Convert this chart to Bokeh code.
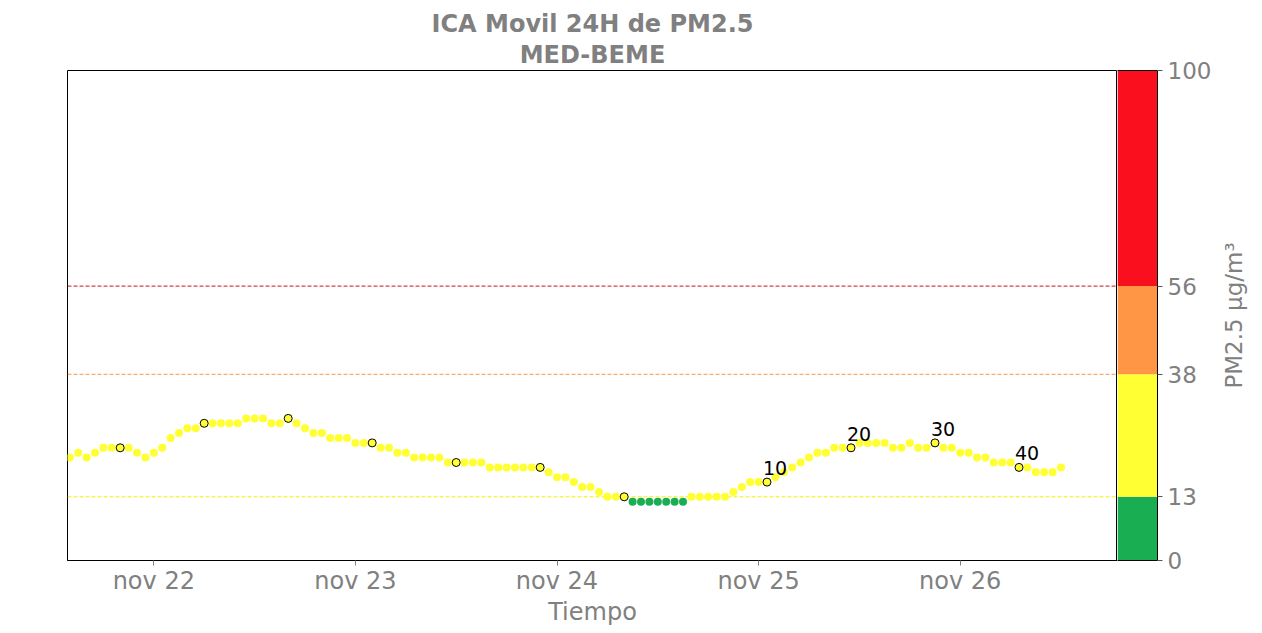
import pandas as pd
from bokeh.plotting import figure
from bokeh.layouts import row
from bokeh.models import Range1d, FixedTicker, LabelSet, ColumnDataSource, Title, LinearAxis
from bokeh.core.properties import value
from bokeh.embed import file_html
from bokeh.resources import INLINE

# ---------------- data ----------------
title_lines = ["ICA Movil 24H de PM2.5", "MED-BEME"]
x_label = "Tiempo"
cb_axis_label = "PM2.5 \u03bcg/m\u00b3"
start_time = "2022-11-21 14:00"          # first hourly value
pm25 = [21, 22, 21, 22, 23, 23, 23, 23, 22, 21, 22, 23, 25, 26, 27, 27,
        28, 28, 28, 28, 28, 29, 29, 29, 28, 28, 29, 28, 27, 26, 26, 25,
        25, 25, 24, 24, 24, 23, 23, 22, 22, 21, 21, 21, 21, 20, 20, 20,
        20, 20, 19, 19, 19, 19, 19, 19, 19, 18, 17, 17, 16, 15, 15, 14,
        13, 13, 13, 12, 12, 12, 12, 12, 12, 12, 13, 13, 13, 13, 13, 14,
        15, 16, 16, 16, 17, 18, 19, 20, 21, 22, 22, 23, 23, 23, 24, 24,
        24, 24, 23, 23, 24, 23, 23, 24, 23, 23, 22, 22, 21, 21, 20, 20,
        20, 19, 19, 18, 18, 18, 19]
marked_idx = [6, 16, 26, 36, 46, 56, 66, 83, 93, 103, 113]
marked_txt = ["", "", "", "", "", "", "", "10", "20", "30", "40"]
tick_days = ["2022-11-22", "2022-11-23", "2022-11-24", "2022-11-25", "2022-11-26"]
tick_labels = ["nov 22", "nov 23", "nov 24", "nov 25", "nov 26"]
cb_bounds = [0, 13, 38, 56, 100]
cb_colors = ["#1aae53", "#ffff33", "#ff9645", "#fa0f1f"]
limit_levels = [13, 38, 56]
limit_colors = ["#f7f000", "#ff9645", "#c8141e"]

# ---------------- derived ----------------
ref0 = pd.Timestamp("2022-11-21 00:00")
times = pd.date_range(start_time, periods=len(pm25), freq="h")
hours = [(t - ref0) / pd.Timedelta(hours=1) for t in times]
tick_hours = [int((pd.Timestamp(d) - ref0) / pd.Timedelta(hours=1)) for d in tick_days]
pt_colors = [cb_colors[0] if v < cb_bounds[1] else cb_colors[1] for v in pm25]

# layout (page pixels)
H = 633
FL, FT, FB = 67, 70, 560
MAIN_R, CB_R, CB_FIG_R = 1117, 1158, 1214
PX_PER_H = 8.4
x0 = hours[0] - (69.3 - FL) / PX_PER_H
xm = x0 + (MAIN_R - FL) / PX_PER_H

GRAY = "#808080"
FONT = "DejaVu Sans"

# ---------------- main plot ----------------
p = figure(width=MAIN_R, height=H, output_backend="svg", toolbar_location=None,
           x_range=Range1d(x0, xm), y_range=Range1d(0, 100),
           y_axis_location=None,
           min_border_left=FL, min_border_right=0,
           min_border_top=FT, min_border_bottom=H - FB)
p.grid.visible = False
p.outline_line_color = "black"
p.outline_line_width = 1

for txt, so in ((title_lines[1], 3), (title_lines[0], 0)):
    p.add_layout(Title(text=txt, align="center", text_font=FONT, text_font_size="24px",
                       text_font_style="bold", text_color=GRAY, standoff=so), "above")

p.segment(x0=[x0] * 3, x1=[xm] * 3, y0=limit_levels, y1=limit_levels,
          line_color=limit_colors, line_dash="4 2", line_width=1)

src = ColumnDataSource(dict(x=hours, y=pm25, c=pt_colors))
p.scatter("x", "y", source=src, size=8, fill_color="c", line_color=None)
msrc = ColumnDataSource(dict(x=[hours[i] for i in marked_idx],
                             y=[pm25[i] for i in marked_idx],
                             c=[pt_colors[i] for i in marked_idx],
                             t=marked_txt))
p.scatter("x", "y", source=msrc, size=8, fill_color="c", line_color="black", line_width=1)
p.add_layout(LabelSet(x="x", y="y", text="t", source=msrc, x_offset=-4, y_offset=7,
                      text_font=value(FONT), text_font_size=value("19px"),
                      text_color="black", text_baseline="alphabetic", text_align="left"))

xa = p.xaxis[0]
xa.ticker = FixedTicker(ticks=tick_hours)
ov = {}
for h, lab in zip(tick_hours, tick_labels):
    ov[h] = lab
    ov[str(h)] = lab
xa.major_label_overrides = ov
xa.major_label_text_font = FONT
xa.major_label_text_font_size = "24px"
xa.major_label_text_color = GRAY
xa.major_tick_out = 5
xa.major_tick_in = 0
xa.minor_tick_line_color = None
xa.major_tick_line_color = GRAY
xa.axis_line_color = "black"
xa.major_label_standoff = 1
xa.axis_label = x_label
xa.axis_label_text_font = FONT
xa.axis_label_text_font_size = "24px"
xa.axis_label_text_font_style = "normal"
xa.axis_label_text_color = GRAY
xa.axis_label_standoff = 0

# ---------------- colorbar ----------------
CBW = CB_FIG_R - MAIN_R
c = figure(width=CBW, height=H, output_backend="svg", toolbar_location=None,
           x_range=Range1d(0, 1), y_range=Range1d(0, 100),
           y_axis_location="right", x_axis_location=None,
           min_border_left=0, min_border_right=CB_FIG_R - CB_R,
           min_border_top=FT, min_border_bottom=H - FB)
c.grid.visible = False
c.outline_line_color = None
c.quad(left=[0] * 4, right=[1] * 4, bottom=cb_bounds[:-1], top=cb_bounds[1:],
       fill_color=cb_colors, line_color=None)
for side in ("above", "below"):
    c.add_layout(LinearAxis(ticker=FixedTicker(ticks=[]), axis_line_color="black",
                            major_tick_line_color=None, minor_tick_line_color=None,
                            major_label_text_font_size="0px"), side)
ya = c.yaxis[0]
ya.ticker = FixedTicker(ticks=cb_bounds)
ya.major_label_text_font = FONT
ya.major_label_text_font_size = "23px"
ya.major_label_text_color = GRAY
ya.major_tick_out = 5
ya.major_tick_in = 0
ya.minor_tick_line_color = None
ya.major_tick_line_color = "#555555"
ya.axis_line_color = "black"
ya.major_label_standoff = 5

# ---------------- colorbar label (left axis of a narrow strip) ----------------
LW = 1262 - CB_FIG_R
lf = figure(width=LW, height=H, output_backend="svg", toolbar_location=None,
            x_range=Range1d(0, 1), y_range=Range1d(0, 100),
            x_axis_location=None, y_axis_location="left",
            min_border_left=32, min_border_right=0,
            min_border_top=FT, min_border_bottom=H - FB)
lf.grid.visible = False
lf.outline_line_color = None
la = lf.yaxis[0]
la.ticker = FixedTicker(ticks=[])
la.axis_line_color = None
la.major_tick_line_color = None
la.minor_tick_line_color = None
la.major_label_text_font_size = "0px"
la.axis_label = cb_axis_label
la.axis_label_text_font = FONT
la.axis_label_text_font_size = "23px"
la.axis_label_text_font_style = "normal"
la.axis_label_text_color = GRAY
la.axis_label_standoff = 0

layout = row(p, c, lf)
open("out.html", "w").write(file_html(layout, INLINE))
